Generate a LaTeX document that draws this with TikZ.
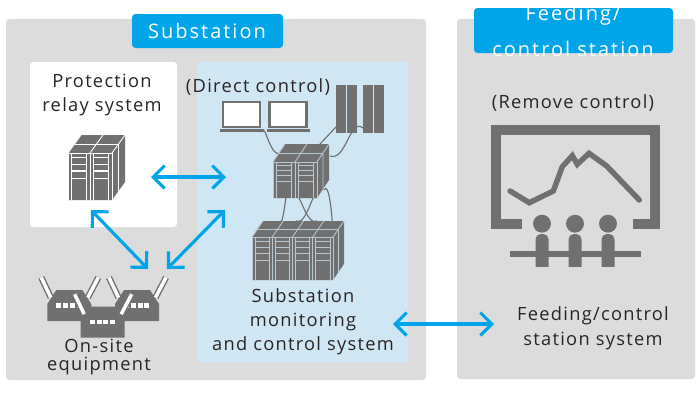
\documentclass[tikz,border=0pt]{standalone}
\usepackage{fontspec}
\newfontfamily\labelfont[LetterSpace=7]{Open Sans}
\newfontfamily\titlefont[LetterSpace=10]{Open Sans}
\usetikzlibrary{arrows.meta}
\definecolor{panelgray}{HTML}{DCDCDC}
\definecolor{panelblue}{HTML}{CFE6F4}
\definecolor{tagblue}{HTML}{00A5E9}
\definecolor{icongray}{HTML}{707070}
\definecolor{inkgray}{HTML}{2A2525}
\tikzset{
x=.02cm, y=-.02cm, % one unit is one pixel, y runs downwards
panel/.style={fill=panelgray, rounded corners=2pt}, % the big station areas
tag/.style={fill=tagblue, rounded corners=2pt}, % the heading boxes
heading/.style={text=white, align=center, inner sep=0pt, font=\titlefont\fontsize{11.4}{#1}\selectfont},
heading/.default=11.4,
caption/.style={text=inkgray, align=center, inner sep=0pt, font=\labelfont\fontsize{10.4}{#1}\selectfont},
caption/.default=13.6,
link/.style={{Straight Barb[length=6.5pt,width=13pt,line width=1.8pt]}-{Straight Barb[length=6.5pt,width=13pt,line width=1.8pt]}, tagblue, line width=1.8pt}, % the data links
cable/.style={icongray, line width=.65pt}, % thin wiring between devices
}
% x, y, units, unit width, height, depth x, depth y, line colour
\newcommand{\drawrack}[8]{
  \begin{scope}[shift={(#1,#2)}]
    \pgfmathsetmacro{\rw}{#3*#4}
    \fill[icongray] (0,0) -- (#6,-#7) -- (\rw+#6,-#7) -- (\rw+#6,#5-#7) -- (\rw,#5) -- (0,#5) -- cycle;
    \draw[#8, line width=.5pt] (#6/2,-#7/2) -- (\rw+#6/2,-#7/2);
    \draw[#8, line width=.5pt] (\rw,0) -- (\rw+#6,-#7) (\rw+#6/2,-#7/2) -- (\rw+#6/2,#5-#7/2);
    \draw[#8, line width=.5pt] (0,0) -- (\rw,0) -- (\rw,#5);
    \foreach \u in {1,...,#3}{
      \pgfmathsetmacro{\ua}{(\u-1)*#4}
      \draw[#8, line width=.5pt] (\ua,0) -- (\ua,#5) (\ua+.15*#4,0) -- (\ua+.15*#4,#5) (\ua+.85*#4,0) -- (\ua+.85*#4,#5);
      \draw[#8, line width=.5pt] (\ua,0) -- (\ua+#6,-#7);
      \foreach \f in {.1,.24,.55}
        \draw[#8, line width=.5pt] (\ua+.15*#4,\f*#5) -- (\ua+.85*#4,\f*#5);
      \draw[#8, line width=.9pt] (\ua+.15*#4,.38*#5) -- (\ua+.85*#4,.38*#5);
    }
  \end{scope}
}
% x, y of the body corner
\newcommand{\drawrouter}[2]{
  \begin{scope}[shift={(#1,#2)}]
    \fill[icongray] (9,0) -- (35,0) -- (44,14) -- (44,31) -- (0,31) -- (0,14) -- cycle;
    \foreach \a/\b/\c/\d in {3.5/7.5/-6/-12.5, 40.5/7.5/51/-12.5}{
      \draw[icongray, line width=3.6pt] (\a,\b) -- (\c,\d);
      \draw[white, line width=2pt] (\a,\b) -- (\c,\d);
    }
    \foreach \p in {9,15.8,22.6,29.4}
      \fill[white] (\p,13) rectangle ++(5,4.5);
  \end{scope}
}
% x, y of the screen corner
\newcommand{\drawlaptop}[2]{
  \fill[white, draw=icongray, line width=1.2pt] (#1,#2) rectangle ++(37,25);
  \fill[icongray] (#1-3,#2+27) rectangle ++(43,2.5);
}
\begin{document}
\begin{tikzpicture}
\useasboundingbox (0,0) rectangle (700,400);
\fill[white] (0,0) rectangle (700,400);

% areas
\fill[panel] (6,19) rectangle (426,380);
\fill[panel] (457,19) rectangle (695,379);
\fill[white, rounded corners=2pt] (30,62) rectangle (177,227);
\fill[panelblue, rounded corners=2pt] (197,62) rectangle (408,362);
\fill[tag] (132,14) rectangle (283,48);
\fill[tag] (474,8) rectangle (673,53);

% headings and captions
\node[heading] (substation) at (207,31) {Substation};
\node[heading=20.5pt] (feeding) at (573,31) {Feeding/\\control station};
\node[caption] (protection) at (102,95) {Protection\\relay system};
\node[caption] (direct) at (258,87) {(Direct control)};
\node[caption] (monitoring) at (303,322) {Substation\\monitoring\\and control system};
\node[caption=10.2] (onsite) at (99,357) {On-site\\equipment};
\node[caption] (remote) at (573,103) {(Remove control)};
\node[caption=14.2] (feedingsys) at (593,328) {Feeding/control\\station system};

% cable ends
\coordinate (laptopout) at (263,132);
\coordinate (midlaptop) at (280,153);
\coordinate (tallaout) at (336,127);
\coordinate (midtalla) at (320,144);
\coordinate (tallbout) at (363,128);
\coordinate (midtallb) at (330,156);
\coordinate (mida) at (286,198);
\coordinate (midb) at (296,198);
\coordinate (midc) at (316,198);
\coordinate (midd) at (324,190);
\coordinate (biga) at (280,221);
\coordinate (bigb) at (317,221);
\coordinate (bigc) at (296,221);
\coordinate (bigd) at (332,221);

% wiring, under the devices
\draw[cable] (laptopout) to[out=85, in=215] (midlaptop);
\draw[cable] (tallaout) -- (midtalla);
\draw[cable] (tallbout) to[out=140, in=-20] (midtallb);
\draw[cable] (mida) to[out=85, in=-75] (biga);
\draw[cable] (midb) to[out=80, in=210] (bigb);
\draw[cable] (midc) to[out=100, in=-30] (bigc);
\draw[cable] (midd) to[out=60, in=-85] (bigd);

% devices
\drawrack{68}{153}{2}{22}{47}{13}{18}{white}
\drawrack{273}{162}{2}{22}{36}{12}{18}{panelblue!70!gray}
\drawrack{252}{237}{4}{20.25}{43}{11}{16}{panelblue!70!gray}
\drawlaptop{223}{102}
\drawlaptop{269.5}{102}
\foreach \x in {336,363}{
  \fill[icongray] (\x,85) rectangle ++(21,48);
  \draw[panelblue, line width=.8pt] (\x+10.5,85) -- (\x+10.5,133);
}
\drawrouter{47.3}{290}
\drawrouter{115}{290}
\drawrouter{80.7}{306.7}

% control room
\draw[icongray, line width=5.7pt] (521.7,224.3) -- (495.7,224.3) -- (495.7,130) -- (654.7,130) -- (654.7,224.3) -- (633.3,224.3);
\draw[icongray, line width=3.1pt, line cap=round] (510,191) -- (529.3,202.7) -- (553.3,191) -- (562.3,166.7) -- (572.3,155.7) -- (577.3,164.3) -- (589,153.3) -- (606.7,166) -- (639.3,200);
\foreach \x in {542,575,608}{
  \fill[icongray] (\x,223.7) circle (5.1pt);
  \fill[icongray, rounded corners=3pt] (\x-6.5,234) rectangle (\x+6.5,275);
}
\fill[panelgray] (530,267.3) rectangle (620,280);
\fill[icongray] (510,251.3) rectangle (640.7,257.3);

% link ends
\coordinate (relayeast) at (151,177);
\coordinate (montop) at (226,177);
\coordinate (relaysouth) at (91,210);
\coordinate (sitea) at (148,269);
\coordinate (siteb) at (167,269);
\coordinate (monleft) at (225,210);
\coordinate (moneast) at (393,324);
\coordinate (feedwest) at (494,324);

\draw[link] (relayeast) -- (montop);
\draw[link] (relaysouth) -- (sitea);
\draw[link] (siteb) -- (monleft);
\draw[link] (moneast) -- (feedwest);
\end{tikzpicture}
\end{document}
